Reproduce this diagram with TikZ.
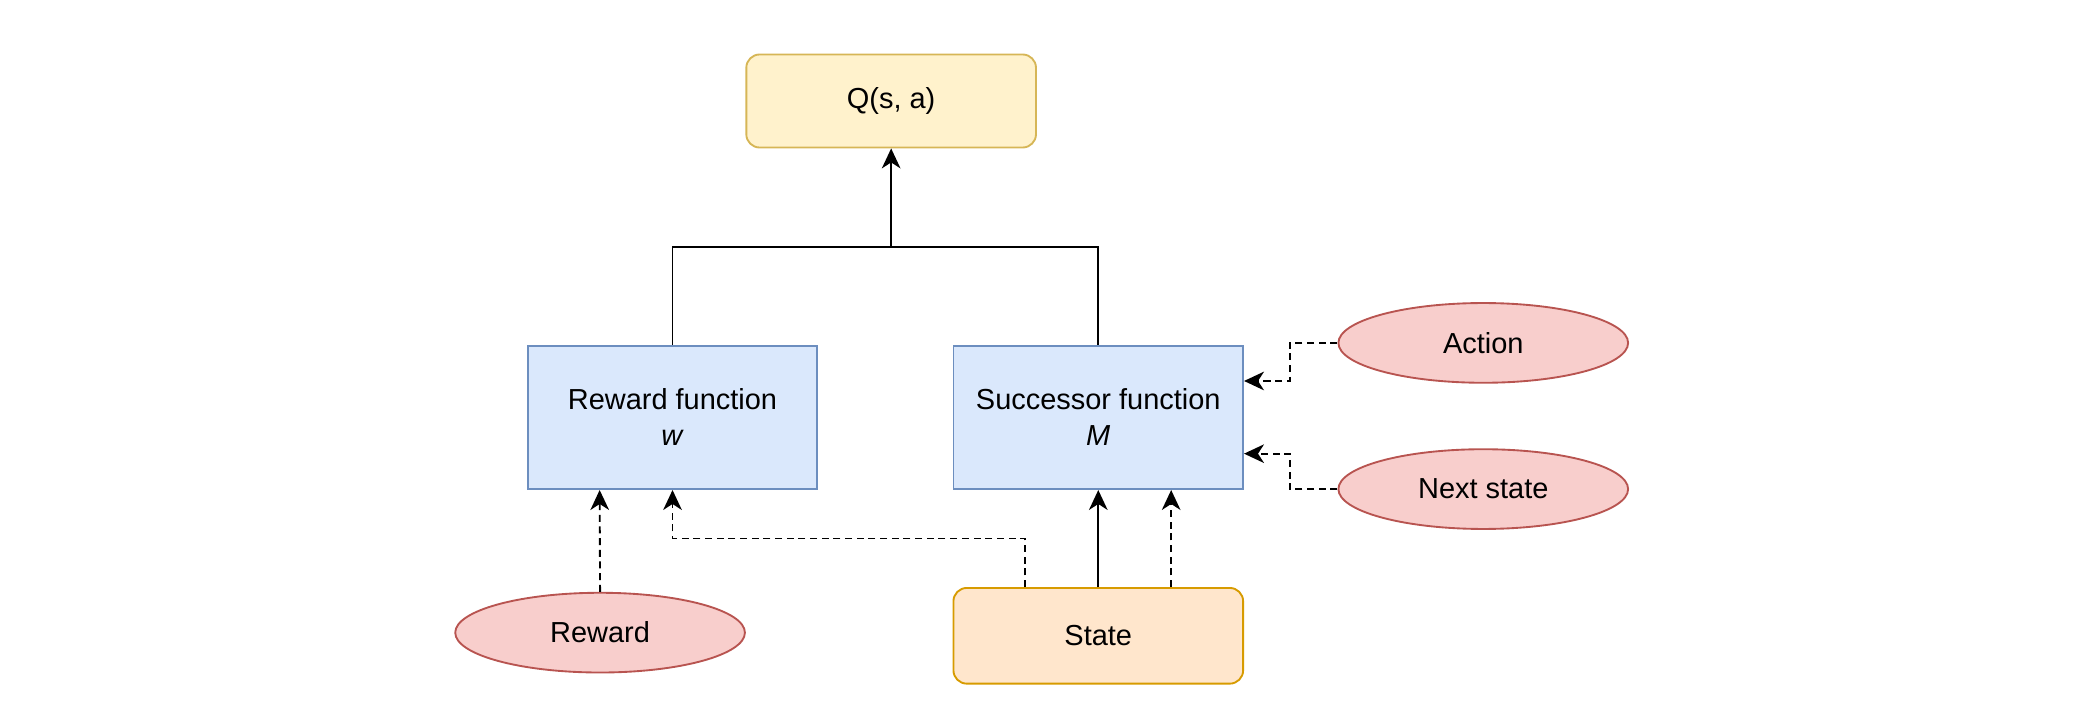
\documentclass[tikz,border=0pt]{standalone}
\usepackage{fontspec}
\setmainfont{Liberation Sans}
\usetikzlibrary{arrows.meta, calc, positioning, shapes.geometric}

\definecolor{qfill}{HTML}{FFF2CC}
\definecolor{qline}{HTML}{D6B656}
\definecolor{fnfill}{HTML}{DAE8FC}
\definecolor{fnline}{HTML}{6C8EBF}
\definecolor{stfill}{HTML}{FFE6CC}
\definecolor{stline}{HTML}{D79B00}
\definecolor{infill}{HTML}{F8CECC}
\definecolor{inline}{HTML}{B85450}

\begin{document}
\begin{tikzpicture}[>={Stealth[length=3mm, width=2.8mm, inset=0.9mm]}, % arrow head style
                x = 0.02cm, y = -0.02cm, % one unit per pixel of the drawing
                line width = 0.8pt, % line style
                font = \fontsize{12.4}{15.4}\selectfont
            ]

            \tikzstyle{box}=[draw, minimum width = 4.36cm, inner sep = 2pt, align = center]
            \tikzstyle{fnbox}=[box, draw = fnline, fill = fnfill, minimum height = 2.16cm]
            \tikzstyle{oval}=[draw = inline, fill = infill, ellipse, inner sep = 0pt,
            minimum width = 4.36cm, minimum height = 1.2cm]
            \tikzstyle{dashline}=[dash pattern = on 3pt off 2pt]

            \useasboundingbox (0,0) rectangle (1568,543);

            \node (q) [box, rounded corners = 0.2cm, draw = qline, fill = qfill,
                minimum height = 1.4cm] at (670.5,76) {Q(s, a)};
            \node (rew) [fnbox] at (506,314) {Reward function\\\textit{w}};
            \node (succ) [fnbox, right = 2.02cm of rew] {Successor function\\\textit{M}};
            \node (state) [box, rounded corners = 0.2cm, draw = stline, fill = stfill,
                minimum height = 1.44cm, below = 1.46cm of succ] {State};
            \node (reward) [oval] at (451.5,476) {Reward};
            \node (act) [oval] at (1116,258) {Action};
            \node (next) [oval] at (1116,368) {Next state};

            \coordinate (join) at (q.south |- 0,186);

            % points along the box sides
            \coordinate (rewA) at ($(rew.south west)!0.25!(rew.south east)$);
            \coordinate (stA) at ($(state.north west)!0.25!(state.north east)$);
            \coordinate (stB) at ($(state.north west)!0.75!(state.north east)$);
            \coordinate (sucB) at ($(succ.south west)!0.75!(succ.south east)$);
            \coordinate (sucE1) at ($(succ.north east)!0.25!(succ.south east)$);
            \coordinate (sucE2) at ($(succ.north east)!0.75!(succ.south east)$);

            \draw (rew.north) |- (join); \draw (succ.north) |- (join);
            \draw[->] (join) -- (q.south);

            \draw[->] (state.north) -- (succ.south);
            \path[->, dashline] (stB) edge (sucB);
            \path[->, dashline] (reward.north) edge (rewA);
            \draw[->, dashline] (stA) -- ++(0,-36.5) -| (rew.south);
            \draw[->, dashline] (act.west) -- ++(-36,0) |- (sucE1);
            \draw[->, dashline] (next.west) -- ++(-36,0) |- (sucE2);
        \end{tikzpicture}
\end{document}
